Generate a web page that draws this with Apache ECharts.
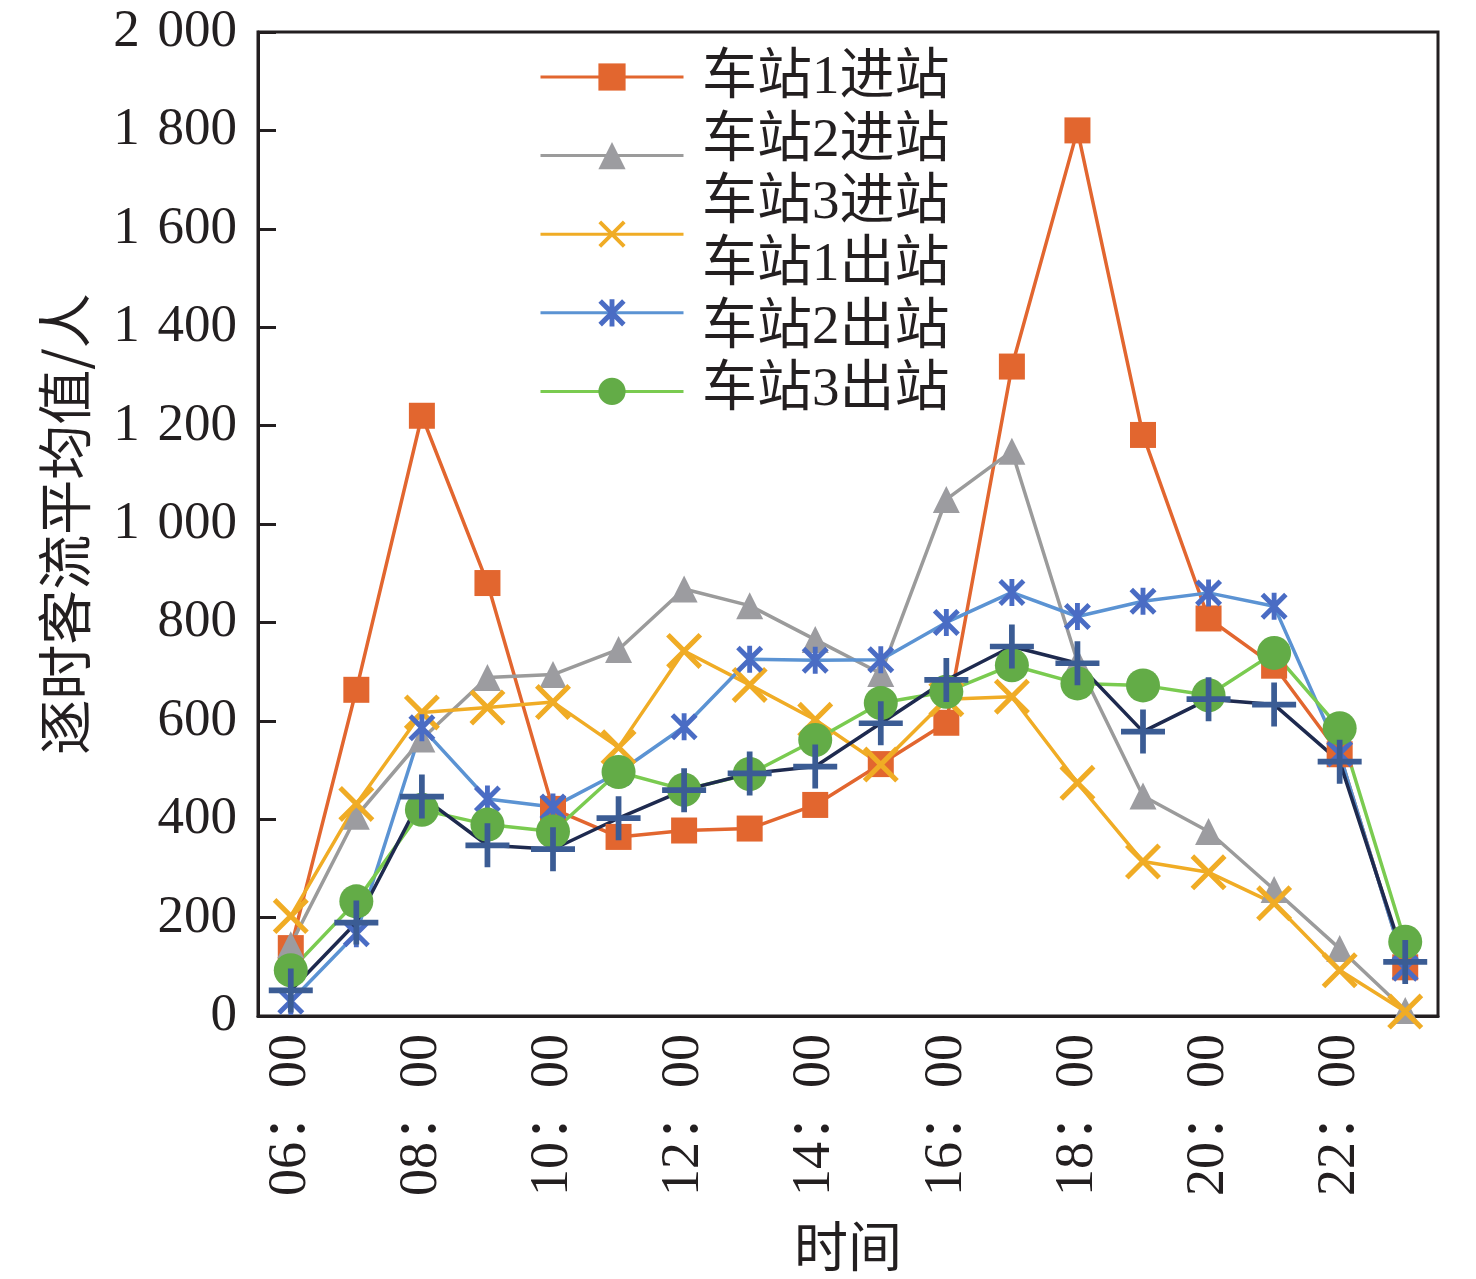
<!DOCTYPE html>
<html>
<head>
<meta charset="utf-8">
<script src="https://cdn.jsdelivr.net/npm/echarts@6/dist/echarts.min.js"></script>
<style>
html,body{margin:0;padding:0;background:#fff;}
#chart{width:1476px;height:1279px;}
</style>
</head>
<body>
<div id="chart"></div>
<script>
// ---- data ----
const hours = ['06：00','07：00','08：00','09：00','10：00','11：00','12：00','13：00','14：00','15：00','16：00','17：00','18：00','19：00','20：00','21：00','22：00','23：00'];
const seriesNames = ['车站1进站','车站2进站','车站3进站','车站1出站','车站2出站','车站3出站'];
const station1In  = [138, 663, 1220, 880, 421, 364, 377, 381, 429, 512, 596, 1320, 1800, 1181, 808, 712, 532, 99];
const station2In  = [145, 406, 563, 688, 694, 745, 868, 834, 765, 696, 1050, 1148, 720, 447, 375, 257, 137, 11];
const station3In  = [203, 431, 617, 627, 638, 546, 742, 673, 602, 511, 644, 649, 474, 314, 292, 229, 93, 9];
const station1Out = [30, 167, 586, 441, 425, 495, 588, 725, 723, 724, 800, 861, 812, 843, 860, 833, 533, 97];
const station2Out = [93, 233, 419, 389, 375, 496, 460, 492, 561, 636, 659, 713, 676, 672, 652, 738, 585, 151];
const station3Out = [52, 190, 446, 347, 339, 402, 459, 493, 507, 595, 683, 751, 717, 578, 644, 633, 517, 110];
const yTicks = [0, 200, 400, 600, 800, 1000, 1200, 1400, 1600, 1800, 2000];

// ---- symbols (filled polygons) ----
function xPath(d){
  return 'M0,'+d+'L'+d+',0L100,'+(100-d)+'L'+(100-d)+',100Z'+
         'M'+(100-d)+',0L100,'+d+'L'+d+',100L0,'+(100-d)+'Z';
}
function vBar(h){ return 'M'+(50-h)+',0L'+(50+h)+',0L'+(50+h)+',100L'+(50-h)+',100Z'; }
function hBar(h){ return 'M0,'+(50-h)+'L100,'+(50-h)+'L100,'+(50+h)+'L0,'+(50+h)+'Z'; }
const symX = 'path://' + xPath(10);
const symAst = 'path://' + xPath(13) + vBar(9);
const symPlus = 'path://' + vBar(6.5) + hBar(6.5);

const serif = "'Liberation Serif','Noto Sans CJK SC'";
const cjk = "'Noto Sans CJK SC','Liberation Serif'";
const black = '#231F20';

function mk(name, data, symbol, size, lineColor, markColor){
  return {
    name: name, type: 'line', data: data,
    symbol: symbol, symbolSize: size, showAllSymbol: true,
    lineStyle: {color: lineColor, width: 3.5},
    itemStyle: {color: markColor, borderWidth: 0},
    emphasis: {disabled: true}
  };
}

const chart = echarts.init(document.getElementById('chart'));
chart.setOption({
  animation: false,
  backgroundColor: '#fff',
  grid: {left: 258, right: 38, top: 32, bottom: 263, show: true, borderColor: black, borderWidth: 3, containLabel: false, outerBoundsMode: 'none'},
  legend: [
    {
      data: seriesNames.slice(0,5), left: 539, top: 60, orient: 'vertical', padding: 0,
      itemWidth: 143, itemHeight: 34, itemGap: 48,
      lineStyle: {width: 3},
      formatter: function(){ return ''; },
      textStyle: {fontSize: 10}, selectedMode: false
    },
    {
      data: seriesNames, left: 696, top: 47.5, orient: 'vertical', padding: 0,
      itemWidth: 0, itemHeight: 1, itemGap: 0,
      itemStyle: {opacity: 0}, lineStyle: {opacity: 0},
      textStyle: {fontSize: 55, fontFamily: serif, color: black, lineHeight: 62.4},
      selectedMode: false
    }
  ],
  xAxis: {
    type: 'category', data: hours, boundaryGap: true,
    name: '时间', nameLocation: 'middle', nameGap: 203,
    nameTextStyle: {fontSize: 54, fontFamily: cjk, color: black},
    axisLine: {lineStyle: {color: black, width: 3}},
    axisTick: {inside: true, length: 18, interval: 1, alignWithLabel: true, lineStyle: {color: black, width: 3}},
    axisLabel: {interval: 1, rotate: 90, margin: 18, fontSize: 54, fontFamily: serif, color: black},
    splitLine: {show: false}
  },
  yAxis: {
    type: 'value', min: yTicks[0], max: yTicks[yTicks.length-1], interval: 200,
    name: '逐时客流平均值/人', nameLocation: 'middle', nameGap: 166,
    nameTextStyle: {fontSize: 55, fontFamily: cjk, color: black},
    axisLine: {show: true, lineStyle: {color: black, width: 3}},
    axisTick: {show: true, inside: true, length: 18, lineStyle: {color: black, width: 3}},
    axisLabel: {
      margin: 21, fontSize: 53, fontFamily: serif, color: black,
      formatter: function(v){ return v >= 1000 ? Math.floor(v/1000) + ' \u200A' + String(v % 1000).padStart(3,'0') : String(v); }
    },
    splitLine: {show: false}
  },
  series: [
    mk(seriesNames[0], station1In, 'rect', 26, '#E2662F', '#E2662F'),
    mk(seriesNames[1], station2In, 'triangle', 27, '#9B9B9B', '#9C9CA0'),
    mk(seriesNames[2], station3In, symX, 36, '#F0AC25', '#F0AC25'),
    mk(seriesNames[3], station1Out, symAst, 27, '#5B93D3', '#4A6CC4'),
    mk(seriesNames[4], station2Out, 'circle', 34, '#7ACB50', '#63AC47'),
    mk(seriesNames[5], station3Out, symPlus, 44, '#1E2A4F', '#3B5C94')
  ]
});
</script>
</body>
</html>
